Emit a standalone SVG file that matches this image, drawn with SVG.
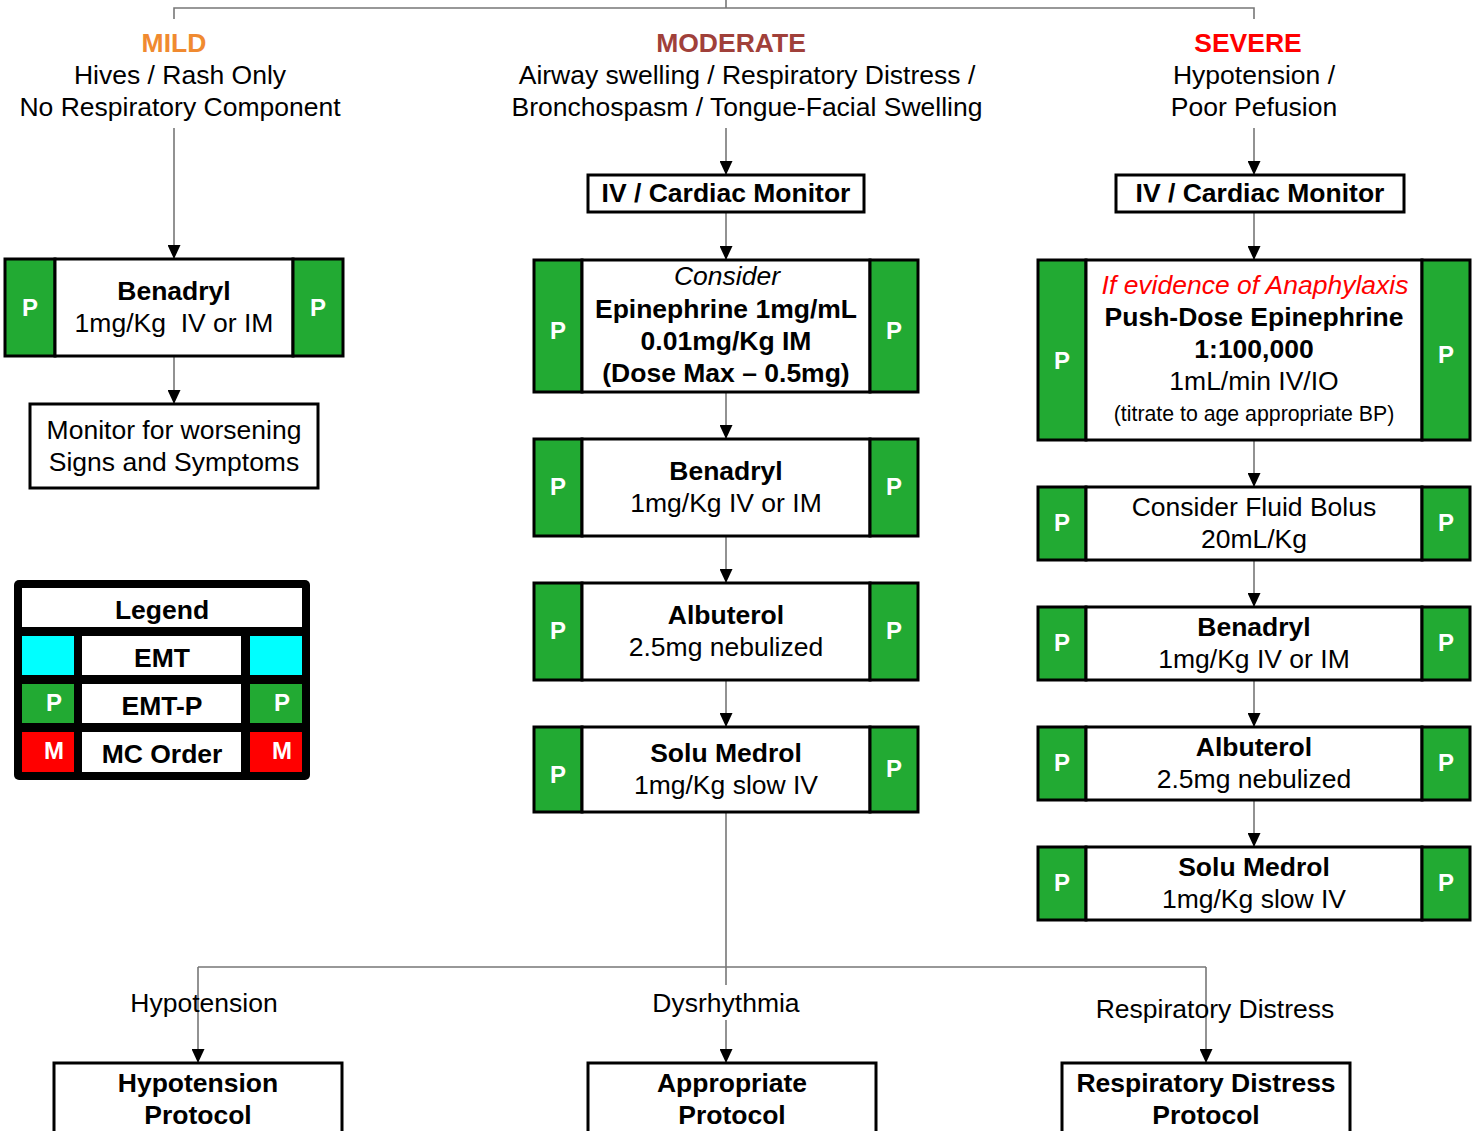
<svg xmlns="http://www.w3.org/2000/svg" width="1477" height="1131" viewBox="0 0 1477 1131">
<style>
text{font-family:"Liberation Sans",Arial,sans-serif;font-size:26.5px;fill:#000;text-anchor:middle}
.b{font-weight:bold}
.i{font-style:italic}
.p{font-weight:bold;fill:#fff;font-size:24px}
.box{fill:#fff;stroke:#000;stroke-width:3}
.g{fill:#22AA33;stroke:#000;stroke-width:3}
.ln{fill:none;stroke:#777;stroke-width:1.6}
.ar{fill:none;stroke:#777;stroke-width:1.6;marker-end:url(#ah)}
</style>
<defs>
<marker id="ah" markerUnits="userSpaceOnUse" markerWidth="14" markerHeight="13" refX="14" refY="6.5" orient="auto" viewBox="0 0 14 13">
<path d="M0,0 L14,6.5 L0,13 z" fill="#000"/>
</marker>
</defs>
<rect width="1477" height="1131" fill="#fff"/>

<g id="connectors">
<path class="ln" d="M726,0 V8 M174,19 V8 H1254 V19"/>
<path class="ar" d="M174,128 V259"/>
<path class="ar" d="M174,356 V404"/>
<path class="ar" d="M726,128 V175"/>
<path class="ar" d="M726,212 V260"/>
<path class="ar" d="M726,392 V439"/>
<path class="ar" d="M726,536 V583"/>
<path class="ar" d="M726,680 V727"/>
<path class="ln" d="M726,812 V967 M198,967 H1206"/>
<path class="ar" d="M198,967 V1063"/>
<path class="ln" d="M726,967 V985"/>
<path class="ar" d="M726,1020 V1063"/>
<path class="ar" d="M1206,967 V1063"/>
<path class="ar" d="M1254,128 V175"/>
<path class="ar" d="M1254,212 V260"/>
<path class="ar" d="M1254,440 V487"/>
<path class="ar" d="M1254,560 V607"/>
<path class="ar" d="M1254,680 V727"/>
<path class="ar" d="M1254,800 V847"/>
<text x="204" y="1012">Hypotension</text>
<text x="726" y="1012">Dysrhythmia</text>
<text x="1215" y="1018">Respiratory Distress</text>
</g>

<g id="mild-header">
<text x="174" y="52" class="b" style="fill:#F08A30">MILD</text>
<text x="180" y="84">Hives / Rash Only</text>
<text x="180" y="116">No Respiratory Component</text>
</g>
<g id="moderate-header">
<text x="731" y="52" class="b" style="fill:#A0403A">MODERATE</text>
<text x="747" y="84">Airway swelling / Respiratory Distress /</text>
<text x="747" y="116">Bronchospasm / Tongue-Facial Swelling</text>
</g>
<g id="severe-header">
<text x="1248" y="52" class="b" style="fill:#FF0000">SEVERE</text>
<text x="1254" y="84">Hypotension /</text>
<text x="1254" y="116">Poor Pefusion</text>
</g>

<g id="mild-benadryl">
<rect class="g" x="5" y="259" width="50" height="97"/>
<rect class="box" x="55" y="259" width="238" height="97"/>
<rect class="g" x="293" y="259" width="50" height="97"/>
<text class="p" x="30" y="316">P</text>
<text class="p" x="318" y="316">P</text>
<text class="b" x="174" y="300">Benadryl</text>
<text x="174" y="332" xml:space="preserve">1mg/Kg  IV or IM</text>
</g>
<g id="mild-monitor">
<rect class="box" x="30" y="404" width="288" height="84"/>
<text x="174" y="439">Monitor for worsening</text>
<text x="174" y="471">Signs and Symptoms</text>
</g>

<g id="legend">
<rect x="14" y="580" width="296" height="200" rx="5" fill="#000"/>
<rect x="22" y="588" width="280" height="39" fill="#fff"/>
<rect x="22" y="636" width="52" height="39" fill="#00FFFF"/>
<rect x="82" y="636" width="159" height="39" fill="#fff"/>
<rect x="250" y="636" width="52" height="39" fill="#00FFFF"/>
<rect x="22" y="684" width="52" height="39" fill="#22AA33"/>
<rect x="82" y="684" width="159" height="39" fill="#fff"/>
<rect x="250" y="684" width="52" height="39" fill="#22AA33"/>
<rect x="22" y="732" width="52" height="40" fill="#FF0000"/>
<rect x="82" y="732" width="159" height="40" fill="#fff"/>
<rect x="250" y="732" width="52" height="40" fill="#FF0000"/>
<text class="b" x="162" y="619">Legend</text>
<text class="b" x="162" y="667">EMT</text>
<text class="b" x="162" y="715">EMT-P</text>
<text class="b" x="162" y="763">MC Order</text>
<text class="p" x="54" y="711">P</text>
<text class="p" x="282" y="711">P</text>
<text class="p" x="54" y="759">M</text>
<text class="p" x="282" y="759">M</text>
</g>

<g id="mod-iv">
<rect class="box" x="588" y="175" width="276" height="37"/>
<text class="b" x="726" y="202">IV / Cardiac Monitor</text>
</g>
<g id="mod-epi">
<rect class="g" x="534" y="260" width="48" height="132"/>
<rect class="box" x="582" y="260" width="288" height="132"/>
<rect class="g" x="870" y="260" width="48" height="132"/>
<text class="p" x="558" y="339">P</text>
<text class="p" x="894" y="339">P</text>
<text class="i" x="727" y="285">Consider</text>
<text class="b" x="726" y="318">Epinephrine 1mg/mL</text>
<text class="b" x="726" y="350">0.01mg/Kg IM</text>
<text class="b" x="726" y="382">(Dose Max – 0.5mg)</text>
</g>
<g id="mod-benadryl">
<rect class="g" x="534" y="439" width="48" height="97"/>
<rect class="box" x="582" y="439" width="288" height="97"/>
<rect class="g" x="870" y="439" width="48" height="97"/>
<text class="p" x="558" y="495">P</text>
<text class="p" x="894" y="495">P</text>
<text class="b" x="726" y="480">Benadryl</text>
<text x="726" y="512">1mg/Kg IV or IM</text>
</g>
<g id="mod-albuterol">
<rect class="g" x="534" y="583" width="48" height="97"/>
<rect class="box" x="582" y="583" width="288" height="97"/>
<rect class="g" x="870" y="583" width="48" height="97"/>
<text class="p" x="558" y="639">P</text>
<text class="p" x="894" y="639">P</text>
<text class="b" x="726" y="624">Albuterol</text>
<text x="726" y="656">2.5mg nebulized</text>
</g>
<g id="mod-solumedrol">
<rect class="g" x="534" y="727" width="48" height="85"/>
<rect class="box" x="582" y="727" width="288" height="85"/>
<rect class="g" x="870" y="727" width="48" height="85"/>
<text class="p" x="558" y="783">P</text>
<text class="p" x="894" y="777">P</text>
<text class="b" x="726" y="762">Solu Medrol</text>
<text x="726" y="794">1mg/Kg slow IV</text>
</g>

<g id="sev-iv">
<rect class="box" x="1116" y="175" width="288" height="37"/>
<text class="b" x="1260" y="202">IV / Cardiac Monitor</text>
</g>
<g id="sev-epi">
<rect class="g" x="1038" y="260" width="48" height="180"/>
<rect class="box" x="1086" y="260" width="336" height="180"/>
<rect class="g" x="1422" y="260" width="48" height="180"/>
<text class="p" x="1062" y="369">P</text>
<text class="p" x="1446" y="363">P</text>
<text class="i" x="1255" y="294" style="fill:#FF0000">If evidence of Anaphylaxis</text>
<text class="b" x="1254" y="326">Push-Dose Epinephrine</text>
<text class="b" x="1254" y="358">1:100,000</text>
<text x="1254" y="390">1mL/min IV/IO</text>
<text x="1254" y="421" style="font-size:21.3px">(titrate to age appropriate BP)</text>
</g>
<g id="sev-fluid">
<rect class="g" x="1038" y="487" width="48" height="73"/>
<rect class="box" x="1086" y="487" width="336" height="73"/>
<rect class="g" x="1422" y="487" width="48" height="73"/>
<text class="p" x="1062" y="531">P</text>
<text class="p" x="1446" y="531">P</text>
<text x="1254" y="516">Consider Fluid Bolus</text>
<text x="1254" y="548">20mL/Kg</text>
</g>
<g id="sev-benadryl">
<rect class="g" x="1038" y="607" width="48" height="73"/>
<rect class="box" x="1086" y="607" width="336" height="73"/>
<rect class="g" x="1422" y="607" width="48" height="73"/>
<text class="p" x="1062" y="651">P</text>
<text class="p" x="1446" y="651">P</text>
<text class="b" x="1254" y="636">Benadryl</text>
<text x="1254" y="668">1mg/Kg IV or IM</text>
</g>
<g id="sev-albuterol">
<rect class="g" x="1038" y="727" width="48" height="73"/>
<rect class="box" x="1086" y="727" width="336" height="73"/>
<rect class="g" x="1422" y="727" width="48" height="73"/>
<text class="p" x="1062" y="771">P</text>
<text class="p" x="1446" y="771">P</text>
<text class="b" x="1254" y="756">Albuterol</text>
<text x="1254" y="788">2.5mg nebulized</text>
</g>
<g id="sev-solumedrol">
<rect class="g" x="1038" y="847" width="48" height="73"/>
<rect class="box" x="1086" y="847" width="336" height="73"/>
<rect class="g" x="1422" y="847" width="48" height="73"/>
<text class="p" x="1062" y="891">P</text>
<text class="p" x="1446" y="891">P</text>
<text class="b" x="1254" y="876">Solu Medrol</text>
<text x="1254" y="908">1mg/Kg slow IV</text>
</g>

<g id="hypotension-protocol">
<rect class="box" x="54" y="1063" width="288" height="80"/>
<text class="b" x="198" y="1092">Hypotension</text>
<text class="b" x="198" y="1124">Protocol</text>
</g>
<g id="appropriate-protocol">
<rect class="box" x="588" y="1063" width="288" height="80"/>
<text class="b" x="732" y="1092">Appropriate</text>
<text class="b" x="732" y="1124">Protocol</text>
</g>
<g id="respiratory-protocol">
<rect class="box" x="1062" y="1063" width="288" height="80"/>
<text class="b" x="1206" y="1092">Respiratory Distress</text>
<text class="b" x="1206" y="1124">Protocol</text>
</g>
</svg>
